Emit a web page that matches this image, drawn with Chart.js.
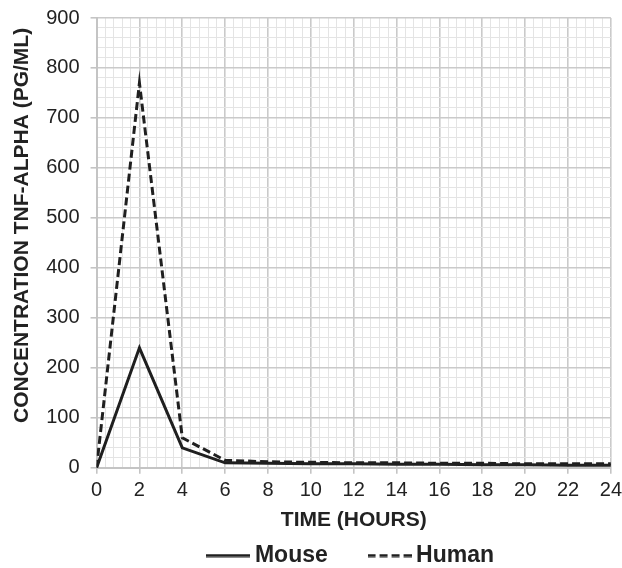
<!DOCTYPE html>
<html>
<head>
<meta charset="utf-8">
<script src="https://cdn.jsdelivr.net/npm/chart.js@4"></script>
<style>
  html, body { margin: 0; padding: 0; background: #fff; }
  #wrap { width: 622px; height: 568px; }
</style>
</head>
<body>
<div id="wrap"><canvas id="tnfChart"></canvas></div>
<script>
const hours = [0, 2, 4, 6, 8, 10, 12, 14, 16, 18, 20, 22, 24];
const mouseTnf = [0, 240, 40, 10, 9, 8, 8, 7, 7, 6, 6, 5, 5];
const humanTnf = [0, 770, 60, 15, 12, 11, 10, 10, 9, 9, 8, 8, 8];

const toPoints = (ys) => hours.map((h, i) => ({ x: h, y: ys[i] }));

const isMajor = (v, step) => Math.abs(v / step - Math.round(v / step)) < 1e-6;
const gridColor = (step) => (ctx) => isMajor(ctx.tick.value, step) ? "#cacaca" : "#e4e4e4";
const gridWidth = (step) => (ctx) => isMajor(ctx.tick.value, step) ? 1.6 : 1;
const tickColor = (step) => (ctx) => isMajor(ctx.tick.value, step) ? "#c4c4c4" : "rgba(0,0,0,0)";

// small line swatches for the legend (solid / dashed)
function swatch(dash) {
  const c = document.createElement("canvas");
  c.width = 44; c.height = 4;
  const g = c.getContext("2d");
  g.strokeStyle = "#1f1f1f";
  g.lineWidth = 3;
  g.setLineDash(dash);
  g.beginPath(); g.moveTo(0, 2); g.lineTo(44, 2); g.stroke();
  return c;
}
const legendIcons = [swatch([]), swatch([8, 4])];

Chart.defaults.font.family = "'Liberation Sans', Arial, sans-serif";
Chart.defaults.color = "#222";

new Chart(document.getElementById("tnfChart"), {
  type: "line",
  data: {
    datasets: [
      { label: "Mouse", data: toPoints(mouseTnf), borderColor: "#1f1f1f", backgroundColor: "#1f1f1f", borderWidth: 3, pointRadius: 0, tension: 0 },
      { label: "Human", data: toPoints(humanTnf), borderColor: "#1f1f1f", backgroundColor: "#1f1f1f", borderWidth: 3, borderDash: [8, 4], pointRadius: 0, tension: 0 }
    ]
  },
  options: {
    responsive: true,
    maintainAspectRatio: false,
    animation: false,
    layout: { padding: { top: 0, left: 2, right: 0, bottom: 0 } },
    plugins: {
      tooltip: { enabled: false },
      legend: {
        position: "bottom",
        fullSize: false,
        maxHeight: 26,
        labels: {
          usePointStyle: true,
          pointStyleWidth: 30,
          padding: 2,
          color: "#222",
          font: { size: 23, weight: "bold" },
          generateLabels: (chart) => Chart.defaults.plugins.legend.labels.generateLabels(chart).map((item, i) => {
            item.pointStyle = legendIcons[i];
            if (i === 0) item.text = item.text + "       ";
            return item;
          })
        }
      }
    },
    scales: {
      x: {
        type: "linear",
        min: 0,
        max: 24,
        ticks: {
          stepSize: 0.4,
          autoSkip: false,
          maxRotation: 0,
          padding: 0,
          font: { size: 20, lineHeight: 1.65 },
          callback: (v) => isMajor(v, 2) ? String(Math.round(v)) : ""
        },
        grid: { color: gridColor(2), lineWidth: gridWidth(2), tickColor: tickColor(2), tickLength: 6 },
        border: { color: "#c4c4c4", width: 2 },
        title: { display: true, text: "TIME (HOURS)", font: { size: 21, weight: "bold" }, padding: { top: 1, bottom: 9 } }
      },
      y: {
        min: 0,
        max: 900,
        ticks: {
          stepSize: 20,
          autoSkip: false,
          padding: 11,
          font: { size: 20, lineHeight: 0.7 },
          callback: (v) => isMajor(v, 100) ? String(Math.round(v)) : ""
        },
        grid: { color: gridColor(100), lineWidth: gridWidth(100), tickColor: tickColor(100), tickLength: 6 },
        border: { color: "#c4c4c4", width: 2 },
        title: { display: true, text: "      CONCENTRATION TNF-ALPHA (PG/ML)", font: { size: 21, weight: "bold" }, padding: { top: 8, bottom: 0 } }
      }
    }
  }
});
</script>
</body>
</html>
